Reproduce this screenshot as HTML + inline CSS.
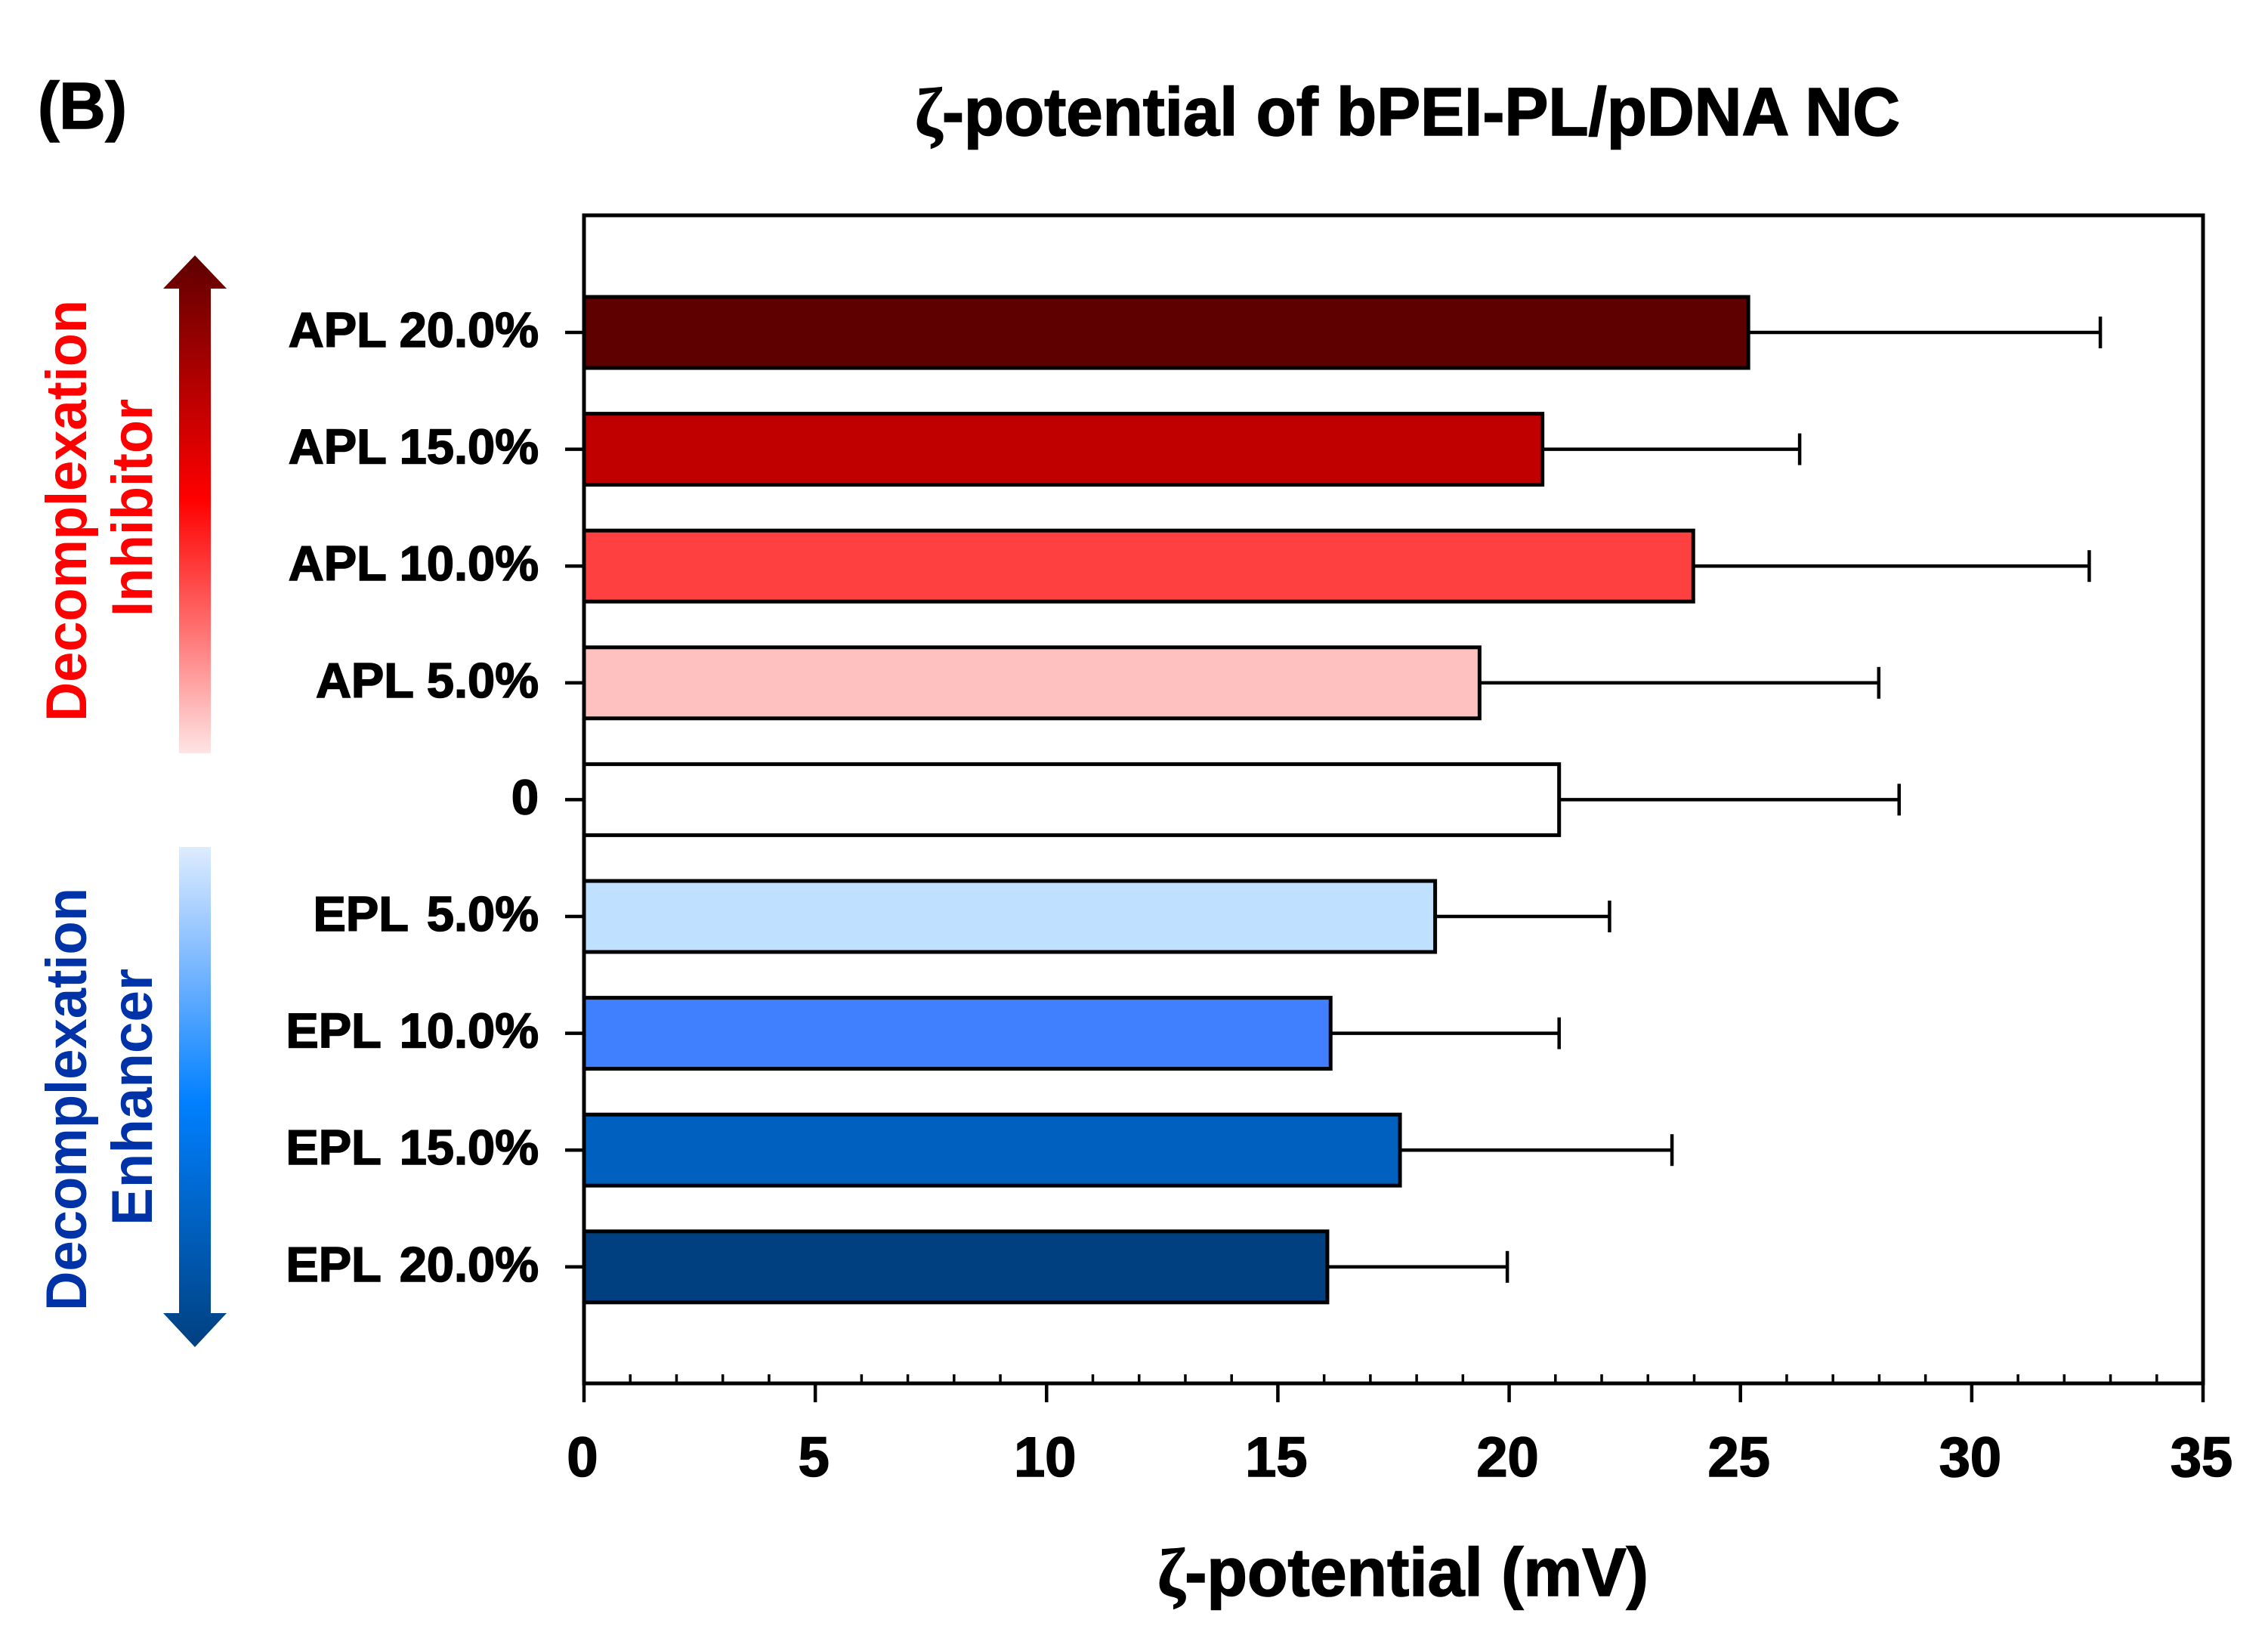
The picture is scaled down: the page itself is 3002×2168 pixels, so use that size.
<!DOCTYPE html>
<html lang="en">
<head>
<meta charset="utf-8">
<title>ζ-potential of bPEI-PL/pDNA NC</title>
<style>
html,body{margin:0;padding:0;background:#fff;}
#chart{display:block;width:3002px;height:2168px;}
text{font-family:"Liberation Sans",sans-serif;font-weight:bold;fill:#000;}
.heavy{stroke:#000;stroke-width:1.6px;}
.greek{font-family:"Liberation Serif",serif;}
</style>
</head>
<body>
<svg id="chart" xmlns="http://www.w3.org/2000/svg" width="3002" height="2168" viewBox="0 0 3002 2168">
  <defs>
    <linearGradient id="red-grad" gradientUnits="userSpaceOnUse" x1="0" y1="338" x2="0" y2="997">
      <stop offset="0" stop-color="#5e0000"/>
      <stop offset="0.49" stop-color="#ff0000"/>
      <stop offset="0.75" stop-color="#ff7070"/>
      <stop offset="1" stop-color="#ffe4e4"/>
    </linearGradient>
    <linearGradient id="blue-grad" gradientUnits="userSpaceOnUse" x1="0" y1="1121" x2="0" y2="1783">
      <stop offset="0" stop-color="#deecff"/>
      <stop offset="0.27" stop-color="#6cb0ff"/>
      <stop offset="0.51" stop-color="#0080ff"/>
      <stop offset="1" stop-color="#004080"/>
    </linearGradient>
  </defs>

  <rect x="0" y="0" width="3002" height="2168" fill="#fff"/>

  <text class="heavy" x="50" y="170" font-size="87" textLength="118" lengthAdjust="spacingAndGlyphs">(B)</text>
  <text class="heavy" x="1211" y="179" font-size="90" textLength="1304" lengthAdjust="spacingAndGlyphs"><tspan class="greek">ζ</tspan>-potential of bPEI-PL/pDNA NC</text>
  <text class="heavy" x="1532" y="2112" font-size="90" textLength="650" lengthAdjust="spacingAndGlyphs"><tspan class="greek">ζ</tspan>-potential (mV)</text>

  <g>
    <text transform="translate(114,955) rotate(-90)" font-size="76" textLength="558" lengthAdjust="spacingAndGlyphs" style="fill:#ff0000">Decomplexation</text>
    <text transform="translate(201,816) rotate(-90)" font-size="76" textLength="288" lengthAdjust="spacingAndGlyphs" style="fill:#ff0000">Inhibitor</text>
    <polygon points="258,338 300,382 279,382 279,997 237,997 237,382 216,382" fill="url(#red-grad)"/>
  </g>

  <g>
    <text transform="translate(114,1735) rotate(-90)" font-size="76" textLength="560" lengthAdjust="spacingAndGlyphs" style="fill:#0033a8">Decomplexation</text>
    <text transform="translate(201,1622) rotate(-90)" font-size="76" textLength="340" lengthAdjust="spacingAndGlyphs" style="fill:#0033a8">Enhancer</text>
    <polygon points="237,1121 279,1121 279,1738 300,1738 258,1783 216,1738 237,1738" fill="url(#blue-grad)"/>
  </g>

  <g id="plot"></g>
</svg>

<script>
const categories = ["APL 20.0%", "APL 15.0%", "APL 10.0%", "APL 5.0%", "0", "EPL 5.0%", "EPL 10.0%", "EPL 15.0%", "EPL 20.0%"];
const zetaValues = [25.17, 20.72, 23.98, 19.36, 21.08, 18.40, 16.14, 17.64, 16.07];
const errorUpper = [32.78, 26.28, 32.54, 27.99, 28.43, 22.17, 21.08, 23.52, 19.96];
const xTickLabels = [0, 5, 10, 15, 20, 25, 30, 35];
const barColors = ["#5f0000", "#c00000", "#ff4040", "#ffc0c0", "#ffffff", "#c0e0ff", "#4080ff", "#0060c0", "#004080"];

const NS = "http://www.w3.org/2000/svg";
const plot = document.getElementById("plot");
const frame = {left: 773, right: 2916, top: 285, bottom: 1831};
const xMax = 35;
const firstCenter = 440, bandStep = 154.6, barHeight = 94;

function xScale(v) {
  return frame.left + (v / xMax) * (frame.right - frame.left);
}
function yScale(i) {
  return firstCenter + bandStep * i;
}
function make(tag, attrs, parent) {
  const el = document.createElementNS(NS, tag);
  for (const k in attrs) el.setAttribute(k, attrs[k]);
  parent.appendChild(el);
  return el;
}
function line(x1, y1, x2, y2, w, parent) {
  return make("line", {x1: x1, y1: y1, x2: x2, y2: y2, stroke: "#000", "stroke-width": w}, parent);
}

categories.forEach(function (cat, i) {
  const yc = yScale(i);
  const group = make("g", {}, plot);
  
  

  const x0 = xScale(0), x1 = xScale(zetaValues[i]), xe = xScale(errorUpper[i]);

  const err = line(x1, yc, xe, yc, 4.5, group);
  
  

  const cap = line(xe, yc - 21, xe, yc + 21, 4.5, group);
  
  

  const bar = make("rect", {
    x: x0, y: yc - barHeight / 2, width: x1 - x0, height: barHeight,
    fill: barColors[i], stroke: "#000", "stroke-width": 5
  }, group);
  
  

  const tick = line(frame.left - 25, yc, frame.left, yc, 4.5, group);
  
  

  const label = make("text", {
    x: 713, y: yc + 19, "font-size": 65, "text-anchor": "end",
    "word-spacing": cat.indexOf("EPL") === 0 ? 7 : 0, "class": "heavy"
  }, group);
  label.textContent = cat;
  
  
});

for (let v = 0; v <= xMax; v++) {
  if (v % 5 === 0) continue;
  const minor = line(xScale(v), frame.bottom - 12, xScale(v), frame.bottom, 3.5, plot);
  
  
}

xTickLabels.forEach(function (v) {
  const major = line(xScale(v), frame.bottom, xScale(v), frame.bottom + 25, 4.5, plot);
  
  

  const lab = make("text", {x: xScale(v) - 2, y: 1954, "font-size": 74, "text-anchor": "middle", "class": "heavy"}, plot);
  lab.textContent = String(v);
  
  
});

const border = make("rect", {
  x: frame.left, y: frame.top, width: frame.right - frame.left, height: frame.bottom - frame.top,
  fill: "none", stroke: "#000", "stroke-width": 5
}, plot);


</script>
</body>
</html>
